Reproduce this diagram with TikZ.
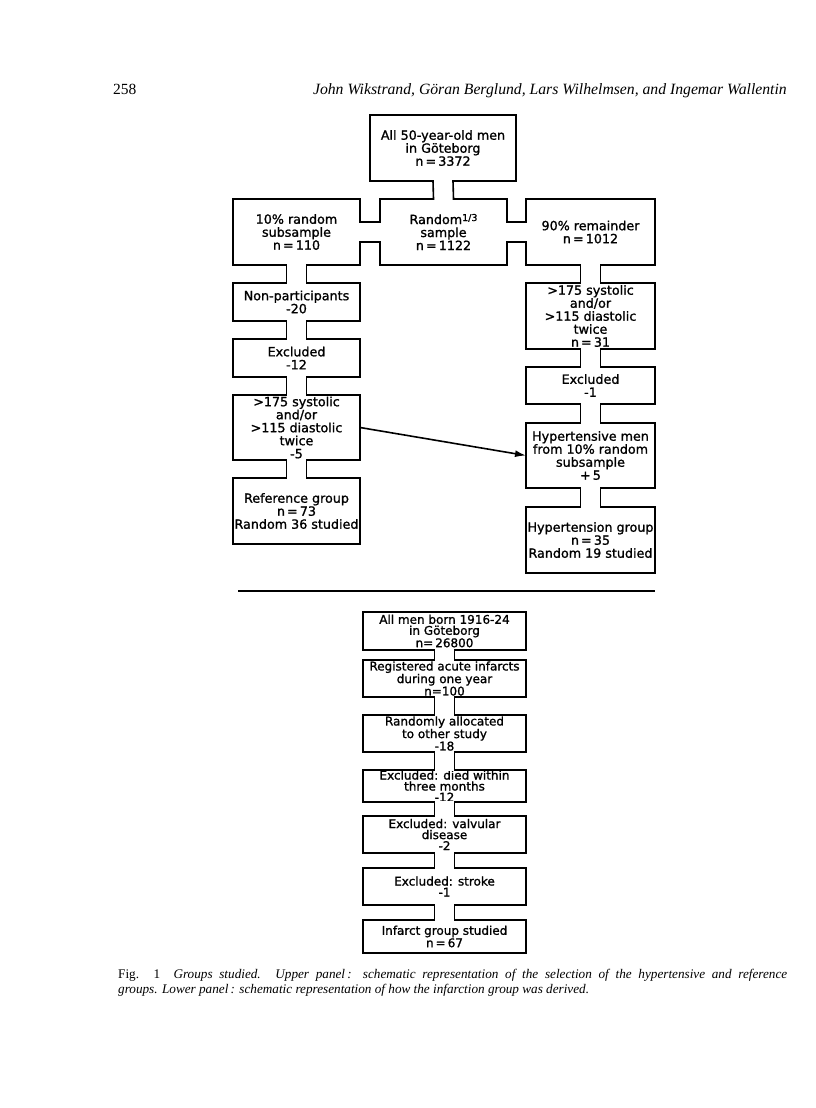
\documentclass[tikz,border=0pt]{standalone}
\usepackage{fontspec}
\setmainfont{Liberation Serif}
\newfontfamily\lettering[FakeBold=1.2]{DejaVu Sans}
\usetikzlibrary{positioning,calc,arrows.meta}

% tube joining two boxes, one above the other
\newcommand{\tubev}[2]{%
  \fill[white] ($(#1.south)+(-10pt,1pt)$) rectangle ($(#2.north)+(10pt,-1pt)$);
  \draw[tube] ($(#1.south)+(-10pt,0pt)$) -- ($(#2.north)+(-10pt,0pt)$);
  \draw[tube] ($(#1.south)+(10pt,0pt)$) -- ($(#2.north)+(10pt,0pt)$);
}
% tube joining two boxes side by side
\newcommand{\tubeh}[2]{%
  \fill[white] ($(#1.east)+(-1pt,-10pt)$) rectangle ($(#2.west)+(1pt,10pt)$);
  \draw[tube] ($(#1.east)+(0pt,10pt)$) -- ($(#2.west)+(0pt,10pt)$);
  \draw[tube] ($(#1.east)+(0pt,-10pt)$) -- ($(#2.west)+(0pt,-10pt)$);
}

\begin{document}
\begin{tikzpicture}[x=1pt, y=-1pt,
  box/.style={rectangle, draw, fill=white, line width=1.6pt, inner sep=0pt, outer sep=0pt,
    align=center, minimum width=127pt, minimum height=66pt,
    font=\lettering\fontsize{12.7}{13}\selectfont},
  lowbox/.style={box, minimum width=163pt, minimum height=37pt,
    font=\lettering\fontsize{12}{11}\selectfont},
  tube/.style={line width=1.6pt, line cap=rect},
  pointer/.style={line width=1.6pt, -{Latex[length=11pt,width=7pt]}}]
\useasboundingbox (0,0) rectangle (816,1108);
\fill[white] (0,0) rectangle (816,1108);

% header
\node (pageno) [anchor=base west, inner sep=0pt, font=\fontsize{15.5}{17}\selectfont] at (113,94) {258};
\node (authors) [anchor=base east, inner sep=0pt, font=\itshape\fontsize{15.7}{17}\selectfont] at (787,94)
  {John Wikstrand, Göran Berglund, Lars Wilhelmsen, and Ingemar Wallentin};

% upper panel
\node (all) [box, minimum width=146pt] at (443,148) {All 50-year-old men\\in Göteborg\\n\,=\,3372};
\node (sub10) [box] at (296.5,232) {10\% random\\subsample\\n\,=\,110};
\node (third) [box] at (443.5,232) {Random\raisebox{3pt}{\fontsize{9.5}{9.5}\selectfont 1/3}\\sample\\n\,=\,1122};
\node (rest90) [box, minimum width=129pt] at (590.5,232) {90\% remainder\\n\,=\,1012};

\node (nonpart) [box, minimum height=38pt, below=18pt of sub10] {Non-participants\\-20};
\node (exclA) [box, minimum height=38pt, below=18pt of nonpart] {Excluded\\-12};
\node (bpA) [box, minimum height=65pt, below=18pt of exclA] {>175 systolic\\and/or\\>115 diastolic\\twice\\-5};
\node (refgrp) [box, below=18pt of bpA] {Reference group\\n\,=\,73\\Random 36 studied};

\node (bpB) [box, minimum width=129pt, below=18pt of rest90] {>175 systolic\\and/or\\>115 diastolic\\twice\\n\,=\,31};
\node (exclB) [box, minimum width=129pt, minimum height=37pt, below=18pt of bpB] {Excluded\\-1};
\node (hypmen) [box, minimum width=129pt, minimum height=65pt, below=19pt of exclB] {Hypertensive men\\from 10\% random\\subsample\\+\,5};
\node (hypgrp) [box, minimum width=129pt, below=19pt of hypmen] {Hypertension group\\n\,=\,35\\Random 19 studied};

\tubev{all}{third}
\tubeh{sub10}{third}
\tubeh{third}{rest90}
\tubev{sub10}{nonpart}
\tubev{nonpart}{exclA}
\tubev{exclA}{bpA}
\tubev{bpA}{refgrp}
\tubev{rest90}{bpB}
\tubev{bpB}{exclB}
\tubev{exclB}{hypmen}
\tubev{hypmen}{hypgrp}

\draw[pointer] (bpA.east) -- (hypmen.west);

\draw[line width=1.4pt] (238,591) -- (655,591);

% lower panel
\node (born) [lowbox, minimum height=38pt] at (444.5,631) {All men born 1916-24\\in Göteborg\\n=\,26800};
\node (reg) [lowbox, below=10pt of born] {Registered acute infarcts\\during one year\\n=100};
\node (alloc) [lowbox, below=18pt of reg] {Randomly allocated\\to other study\\-18};
\node (died) [lowbox, minimum height=32pt, below=18pt of alloc] {Excluded: died within\\three months\\-12};
\node (valv) [lowbox, below=14pt of died] {Excluded: valvular\\disease\\-2};
\node (stroke) [lowbox, below=15pt of valv] {Excluded: stroke\\-1};
\node (infgrp) [lowbox, minimum height=33pt, below=15pt of stroke] {Infarct group studied\\n\,=\,67};

\tubev{born}{reg}
\tubev{reg}{alloc}
\tubev{alloc}{died}
\tubev{died}{valv}
\tubev{valv}{stroke}
\tubev{stroke}{infgrp}

% caption
\node (caption) [anchor=north west, text width=669pt, align=justify, inner sep=0pt,
  font=\fontsize{13.2}{14.5}\selectfont] at (118,969)
  {Fig. 1\quad\textit{Groups studied. Upper panel\,: schematic representation of the selection of the hypertensive and reference}\linebreak
   \textit{groups. Lower panel\,: schematic representation of how the infarction group was derived.}};
\end{tikzpicture}
\end{document}
